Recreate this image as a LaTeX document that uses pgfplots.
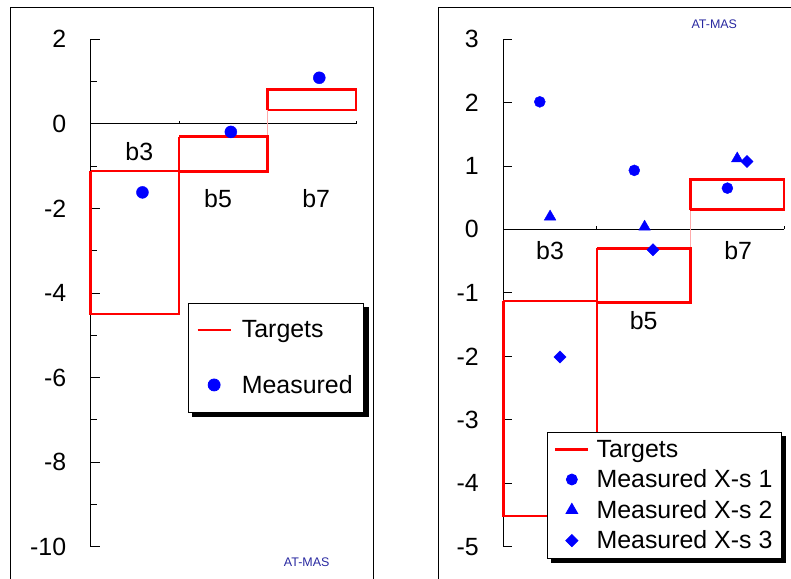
\documentclass[border=0pt]{standalone}
\usepackage{pgfplots}
\pgfplotsset{compat=1.18}
\usepackage{fontspec}
\setmainfont{Liberation Sans}
\definecolor{tred}{RGB}{255,0,0}
\definecolor{mblue}{RGB}{0,0,255}
\definecolor{pinkc}{RGB}{255,170,170}
\definecolor{atmas}{RGB}{40,40,160}
\newcommand{\bigf}{\fontsize{25}{30}\selectfont}
\begin{document}
\begin{tikzpicture}
\path[use as bounding box] (0,0) rectangle (791bp,-579bp);
\begin{scope}
\clip (0,0) rectangle (791bp,-579bp);
\draw[line width=1bp] (10bp,-7.3bp) rectangle (373.3bp,-620bp);
\draw[line width=1bp] (438.3bp,-7.3bp) rectangle (830bp,-620bp);
\end{scope}
\pgfplotsset{
  common/.style={
    scale only axis, clip=false,
    axis x line*=middle, axis y line*=left,
    xmin=0, xmax=3,
    xtick={1,2,3}, xticklabels={},
    xtick style={/pgfplots/major tick length=3bp},
    tick align=inside,
    major tick length=9bp, minor tick length=6bp,
    axis line style={line width=1bp},
    every tick/.style={black, line width=0.8bp},
    yticklabel style={font=\bigf, xshift=-21bp},
    legend cell align=left,
  },
  tgt/.style={tred, line width=2.5bp, line join=miter},
  lineleg/.style={legend image code/.code={\draw[tred, line width=2.5bp] (0bp,0bp) -- (33bp,0bp); \path (#1,0bp);}},
  markleg/.style={legend image code/.code={\draw[##1] plot coordinates {(16.5bp,0bp)}; \path (#1,0bp);}},
}
% Left panel
\begin{axis}[common,
  at={(90.7bp,-546.7bp)}, anchor=south west,
  width=265.3bp, height=507.4bp,
  ymin=-10, ymax=2,
  ytick={-10,-8,-6,-4,-2,0,2},
  yticklabels={-10,-8,-6,-4,-2,0,2},
  minor ytick={-9,-7,-5,-3,-1,1},
  legend style={name=LegA, at={(0.3667,0.481)}, anchor=north west, draw=black, line width=0.8bp,
    fill=white, font=\bigf, inner xsep=8bp, inner ysep=14.5bp, row sep=30bp,
    nodes={inner sep=3bp}},
]
\addplot[pinkc, line width=1bp, forget plot] coordinates {(2,-0.3) (2,0.33)};
\addplot[tgt, lineleg=40bp] coordinates {(0,-1.12) (1,-1.12) (1,-4.5) (0,-4.5) (0,-1.12)};
\addlegendentry{Targets}
\addplot[tgt, forget plot] coordinates {(1,-0.3) (2,-0.3) (2,-1.13) (1,-1.13) (1,-0.3)};
\addplot[tgt, forget plot] coordinates {(2,0.33) (3,0.33) (3,0.81) (2,0.81) (2,0.33)};
\addplot[only marks, mark=*, mark size=6bp, mblue, markleg=40bp] coordinates {(0.585,-1.62) (1.585,-0.19) (2.585,1.09)};
\addlegendentry{Measured}
\node[font=\bigf] at (axis cs:0.55,-0.655) {b3};
\node[font=\bigf] at (axis cs:1.44,-1.77) {b5};
\node[font=\bigf] at (axis cs:2.55,-1.77) {b7};
\end{axis}
% Right panel
\begin{axis}[common,
  at={(503.3bp,-546.7bp)}, anchor=south west,
  width=280.7bp, height=507.7bp,
  ymin=-5, ymax=3,
  ytick={-5,-4,-3,-2,-1,0,1,2,3},
  yticklabels={-5,-4,-3,-2,-1,0,1,2,3},
  legend style={name=LegB, at={(0.1546,0.2265)}, anchor=north west, draw=black, line width=0.8bp,
    fill=white, font=\bigf, inner xsep=7bp, inner ysep=6bp, row sep=7bp,
    nodes={inner sep=2bp}},
]
\addplot[pinkc, line width=1bp, forget plot] coordinates {(2,-0.3) (2,0.32)};
\addplot[tgt, lineleg=38bp] coordinates {(0,-1.13) (1,-1.13) (1,-4.52) (0,-4.52) (0,-1.13)};
\addlegendentry{Targets}
\addplot[tgt, forget plot] coordinates {(1,-0.3) (2,-0.3) (2,-1.15) (1,-1.15) (1,-0.3)};
\addplot[tgt, forget plot] coordinates {(2,0.31) (3,0.31) (3,0.79) (2,0.79) (2,0.31)};
\addplot[only marks, mark=*, mark size=5.5bp, mblue, markleg=38bp] coordinates {(0.39,2.01) (1.40,0.93) (2.395,0.65)};
\addlegendentry{Measured X-s 1}
\addplot[only marks, mark=triangle*, mark size=6.7bp, mblue, markleg=38bp] coordinates {(0.5,0.20) (1.51,0.04) (2.5,1.115)};
\addlegendentry{Measured X-s 2}
\addplot[only marks, mark=square*, mark size=4.3bp, mark options={rotate=45}, mblue, markleg=38bp] coordinates {(0.606,-2.01) (1.6,-0.32) (2.605,1.07)};
\addlegendentry{Measured X-s 3}
\node[font=\bigf] at (axis cs:0.5,-0.33) {b3};
\node[font=\bigf] at (axis cs:1.5,-1.44) {b5};
\node[font=\bigf] at (axis cs:2.51,-0.33) {b7};
\end{axis}
% legend shadows
\foreach \L in {LegA,LegB} {
  \fill[black] ([yshift=-4bp]\L.north east) rectangle ([xshift=4.5bp,yshift=-4.5bp]\L.south east);
  \fill[black] ([xshift=4bp]\L.south west) rectangle ([xshift=4.5bp,yshift=-4.5bp]\L.south east);
}
\node[atmas, font=\fontsize{12.5}{14}\selectfont] at (306.7bp,-562.7bp) {AT-MAS};
\node[atmas, font=\fontsize{12.5}{14}\selectfont] at (714.3bp,-24bp) {AT-MAS};
\end{tikzpicture}
\end{document}
